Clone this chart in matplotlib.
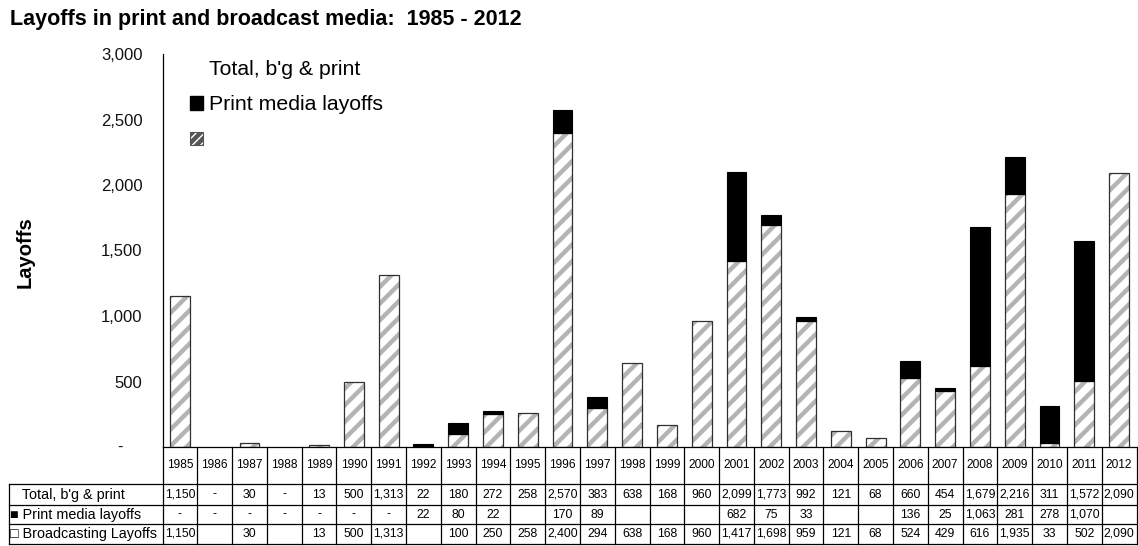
import numpy as np
import matplotlib
matplotlib.use("Agg")
import matplotlib.pyplot as plt
from matplotlib.patches import Patch
from matplotlib.lines import Line2D
from matplotlib.transforms import blended_transform_factory

plt.rcParams['font.family'] = ['Liberation Sans', 'DejaVu Sans']
plt.rcParams['hatch.linewidth'] = 3.2

# ---- data -------------------------------------------------------------
years = list(range(1985, 2013))
nan = np.nan
total = [1150, 0, 30, 0, 13, 500, 1313, 22, 180, 272, 258, 2570, 383, 638,
         168, 960, 2099, 1773, 992, 121, 68, 660, 454, 1679, 2216, 311, 1572, 2090]
print_media = [0, 0, 0, 0, 0, 0, 0, 22, 80, 22, nan, 170, 89, nan,
               nan, nan, 682, 75, 33, nan, nan, 136, 25, 1063, 281, 278, 1070, nan]
broadcasting = [1150, nan, 30, nan, 13, 500, 1313, nan, 100, 250, 258, 2400, 294, 638,
                168, 960, 1417, 1698, 959, 121, 68, 524, 429, 616, 1935, 33, 502, 2090]
series_names = ["Total, b'g & print", "Print media layoffs", "Broadcasting Layoffs"]
yticks = [500, 1000, 1500, 2000, 2500, 3000]

# ---- figure geometry (pixels) -----------------------------------------
W, H = 1138, 546
ax_left, ax_right, ax_top, ax_bottom = 162.5, 1136.5, 54, 447
fig = plt.figure(figsize=(W / 100, H / 100), dpi=100)
ax = fig.add_axes([ax_left / W, 1 - ax_bottom / H,
                   (ax_right - ax_left) / W, (ax_bottom - ax_top) / H])

n = len(years)
x = np.arange(n)
bc = np.array(broadcasting, dtype=float)
pm = np.array(print_media, dtype=float)
bc0 = np.nan_to_num(bc)
pm0 = np.nan_to_num(pm)

bw = 0.57
hatch_grey = '#b4b4b4'
edge = '#303030'

# broadcasting bars: hatched fill, then outline
m = bc0 > 0
ax.bar(x[m], bc0[m], width=bw, facecolor='white', edgecolor=hatch_grey,
       hatch='//', linewidth=0, zorder=2)
ax.bar(x[m], bc0[m], width=bw, facecolor='none', edgecolor=edge,
       linewidth=0.9, zorder=3)

# print media bars stacked on top
mp = pm0 > 0
ax.bar(x[mp], pm0[mp], bottom=bc0[mp], width=bw, facecolor='black',
       edgecolor='black', linewidth=0.8, zorder=3)

ax.set_xlim(-0.5, n - 0.5)
ax.set_ylim(0, 3000)
ax.set_xticks([])
ax.set_yticks(yticks)
ax.set_yticklabels([f"{v:,}" for v in yticks], fontsize=12, color='#111111')
ax.tick_params(axis='y', length=0, pad=14.5)
for s in ('top', 'right'):
    ax.spines[s].set_visible(False)
for s in ('left', 'bottom'):
    ax.spines[s].set_linewidth(0.9)
    ax.spines[s].set_color('black')

# zero tick in accounting style
ytr = blended_transform_factory(ax.transAxes, ax.transData)
ax.text((120 - ax_left) / (ax_right - ax_left), 0, "-", transform=ytr,
        ha='center', va='center', fontsize=12, color='#111111')

# ---- legend -------------------------------------------------------------
handles = [Patch(facecolor='none', edgecolor='none'),
           Patch(facecolor='black', edgecolor='black'),
           Patch(facecolor='white', edgecolor='#555555', hatch='////', linewidth=0.8)]
labels = [series_names[0], series_names[1], ""]
ax.legend(handles, labels, loc='upper left',
          bbox_to_anchor=((190 - ax_left) / (ax_right - ax_left), 0.985),
          frameon=False, fontsize=15.3, handlelength=0.6, handleheight=0.6,
          handletextpad=0.3, labelspacing=0.78, borderpad=0, borderaxespad=0)

# ---- data table beneath the plot ---------------------------------------
axh = ax_bottom - ax_top
def yfrac(py):
    return (ax_bottom - py) / axh

tr = blended_transform_factory(ax.transData, ax.transAxes)
col_w = (ax_right - ax_left) / n
x_lab = -0.5 + (9 - ax_left) / col_w
hdr_b, r1_b, r2_b, r3_b = 484, 505, 524, 544
lw = 0.9

def hline(x0, x1, py):
    ax.add_line(Line2D([x0, x1], [yfrac(py)] * 2, transform=tr, color='black',
                       lw=lw, clip_on=False))

def vline(xv, py0, py1):
    ax.add_line(Line2D([xv, xv], [yfrac(py0), yfrac(py1)], transform=tr,
                       color='black', lw=lw, clip_on=False))

for k in range(n + 1):
    vline(-0.5 + k, ax_bottom, r3_b)
vline(x_lab, hdr_b, r3_b)
for py in (hdr_b, r1_b, r2_b, r3_b):
    hline(x_lab, n - 0.5, py)

for i, yr in enumerate(years):
    ax.text(i, yfrac((ax_bottom + hdr_b) / 2), str(yr), transform=tr,
            ha='center', va='center', fontsize=8.6, clip_on=False)

def fmt(v):
    if np.isnan(v):
        return ""
    if v == 0:
        return "-"
    return f"{v:,.0f}"

rows = [np.array(total, dtype=float), pm, bc]
row_bounds = [(hdr_b, r1_b), (r1_b, r2_b), (r2_b, r3_b)]
for vals, (t, b) in zip(rows, row_bounds):
    yc = yfrac((t + b) / 2)
    for i, v in enumerate(vals):
        ax.text(i, yc, fmt(v), transform=tr, ha='center', va='center',
                fontsize=8.8, clip_on=False)

row_labels = ["   " + series_names[0], "\u25a0 " + series_names[1],
              "\u25a1 " + series_names[2]]
for lab, (t, b) in zip(row_labels, row_bounds):
    ax.text(x_lab + 1.5 / col_w, yfrac((t + b) / 2), lab, transform=tr,
            ha='left', va='center', fontsize=10.4, clip_on=False)

# ---- titles ---------------------------------------------------------------
fig.text(10 / W, 1 - 19 / H, "Layoffs in print and broadcast media:  1985 - 2012",
         ha='left', va='center', fontsize=15.5, fontweight='bold')
fig.text(25 / W, 1 - 252 / H, "Layoffs", rotation=90, ha='center', va='center',
         fontsize=14.5, fontweight='bold')

fig.savefig("out.png", dpi=100, facecolor='white')
